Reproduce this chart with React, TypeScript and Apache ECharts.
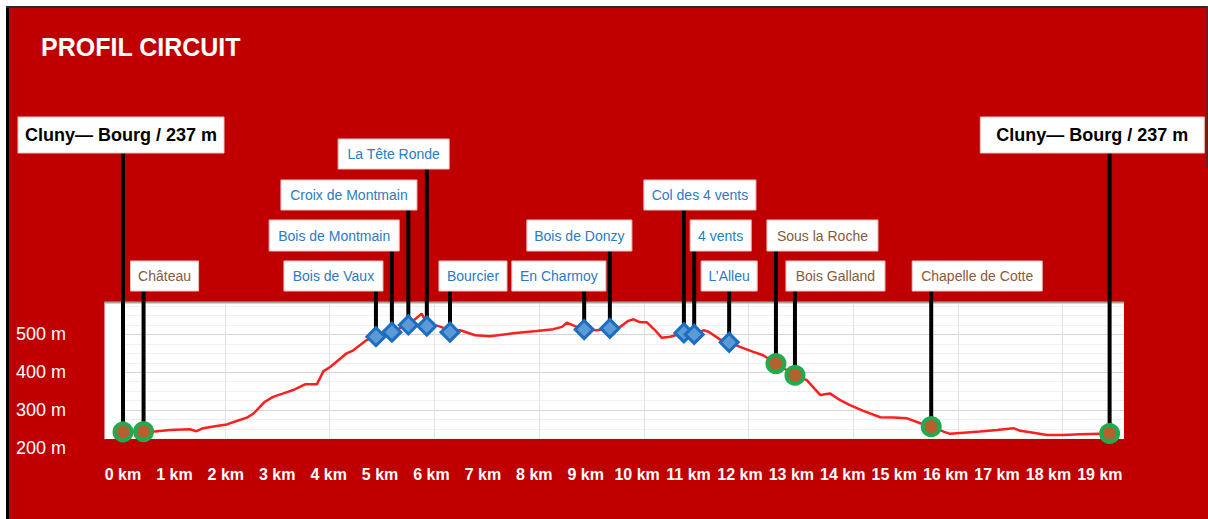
import React, { useEffect, useRef } from "react";
import * as echarts from "echarts";

const FONT = '"Liberation Sans", Arial, Helvetica, sans-serif';

// Elevation profile (distance in km, elevation in m)
const PROFILE_KM = [
  0.0, 0.4, 0.62, 0.91, 1.3, 1.43, 1.56, 1.82, 2.02, 2.21, 2.41, 2.54, 2.76, 2.92, 3.12, 3.31,
  3.54, 3.77, 3.9, 4.03, 4.35, 4.48, 4.74, 4.92, 5.23, 5.39, 5.55, 5.68, 5.81, 5.91, 6.14,
  6.36, 6.56, 6.85, 7.14, 7.59, 8.05, 8.37, 8.54, 8.63, 8.79, 8.97, 9.22, 9.47, 9.67, 9.83,
  9.93, 10.06, 10.19, 10.35, 10.48, 10.64, 10.91, 11.11, 11.29, 11.39, 11.61, 11.79, 12.0,
  12.26, 12.45, 12.7, 13.07, 13.3, 13.56, 13.75, 13.95, 14.14, 14.4, 14.73, 14.99, 15.25,
  15.51, 15.72, 15.96, 16.09, 16.35, 16.67, 17.0, 17.32, 17.45, 17.71, 17.97, 18.29, 18.62, 19.19,
];
const PROFILE_ELEV = [
  241, 243, 243, 247, 249, 244, 252, 258, 262, 271, 280, 291, 322, 335, 344, 353,
  368, 368, 403, 414, 450, 458, 485, 494, 506, 517, 525, 540, 555, 530, 522,
  511, 511, 498, 495, 503, 509, 514, 520, 531, 522, 513, 511, 516, 520, 536,
  540, 532, 532, 511, 491, 494, 504, 500, 511, 507, 487, 479, 467,
  454, 445, 423, 392, 379, 340, 344, 326, 313, 298, 281, 280, 278,
  265, 256, 243, 237, 240, 243, 247, 252, 245, 240, 234, 234, 236, 238,
];

// Points of interest
const POI_NAMES = [
  "Cluny\u2014 Bourg / 237 m", "Château", "Bois de Vaux", "Bois de Montmain", "Croix de Montmain",
  "La Tête Ronde", "Bourcier", "En Charmoy", "Bois de Donzy", "Col des 4 vents", "4 vents",
  "L\u2019Alleu", "Sous la Roche", "Bois Galland", "Chapelle de Cotte", "Cluny\u2014 Bourg / 237 m",
];
const POI_KM = [0.0, 0.4, 4.92, 5.23, 5.55, 5.91, 6.36, 8.97, 9.47, 10.91, 11.11, 11.79, 12.7, 13.07, 15.72, 19.19];
const POI_ELEV = [242, 243, 494, 506, 525, 522, 506, 513, 516, 504, 500, 479, 423, 392, 256, 238];
const POI_KIND = [
  "town", "site", "wood", "wood", "wood", "wood", "wood", "wood", "wood", "wood", "wood", "wood",
  "site", "site", "site", "town",
];

// Label box layout: [offset of box centre from marker x, box top, box width, box height]
const LABEL_BOX: number[][] = [
  [-2, 117, 206, 36], [21, 261, 68, 30], [-42.5, 261, 99, 30], [-57.7, 220, 130, 31],
  [-59.4, 180, 136, 30], [-33.2, 139, 111, 30], [23, 261, 68, 30], [-25.3, 261, 94, 30],
  [-30.5, 220, 105, 31], [16, 180, 112, 30], [26.5, 220, 61, 31], [0, 261, 56, 30],
  [46.5, 220, 111, 31], [40.5, 261, 99, 30], [46, 261, 130, 30], [-17.3, 117, 224, 36],
];

const KIND_COLOR: Record<string, string> = { town: "#000000", site: "#8a5a3b", wood: "#2b7bc4" };

const KM_MAX = 19.47;
const Y_MIN = 200;
const Y_MAX = 585;

export default function App() {
  const ref = useRef<HTMLDivElement>(null);

  useEffect(() => {
    const chart = echarts.init(ref.current!, null, { renderer: "svg" });

    const profile = PROFILE_KM.map((k, i) => [k, PROFILE_ELEV[i]]);
    const poi = POI_KM.map((k, i) => [k, POI_ELEV[i]]);
    const diamonds = POI_KM.map((k, i) => (POI_KIND[i] === "wood" ? [k, POI_ELEV[i]] : null)).filter(Boolean);
    const circles = POI_KM.map((k, i) => (POI_KIND[i] !== "wood" ? [k, POI_ELEV[i]] : null)).filter(Boolean);

    const option: any = {
      animation: false,
      backgroundColor: "#ffffff",
      grid: { left: 123, right: 84, top: 302.3, bottom: 71.15, containLabel: false },
      xAxis: [
        {
          type: "value",
          min: 0,
          max: KM_MAX,
          interval: 1,
          axisLine: { show: false },
          axisTick: { show: false },
          splitLine: { show: false },
          axisLabel: {
            color: "#ffffff",
            fontWeight: "bold",
            fontSize: 16,
            fontFamily: FONT,
            margin: 19,
            showMaxLabel: false,
            formatter: (v: number) => `${v} km`,
          },
        },
        {
          type: "value",
          min: 0.0259,
          max: 9.586,
          minInterval: 1,
          maxInterval: 1,
          position: "bottom",
          axisLine: { show: false },
          axisTick: { show: false },
          axisLabel: { show: false },
          splitLine: { show: true, showMinLine: false, showMaxLine: false, lineStyle: { color: "#e3e3e3", width: 1 } },
        },
      ],
      yAxis: {
        type: "value",
        min: Y_MIN,
        max: Y_MAX,
        interval: 100,
        axisLine: { show: false },
        axisTick: { show: false },
        axisLabel: {
          color: "#ffffff",
          fontSize: 18,
          fontFamily: FONT,
          margin: 57,
          showMaxLabel: false,
          formatter: (v: number) => `${v} m`,
        },
        splitLine: { show: true, lineStyle: { color: "#d6d6d6", width: 1 } },
        minorTick: { show: false, splitNumber: 4 },
        minorSplitLine: { show: true, lineStyle: { color: "#f0f0f0", width: 1 } },
      },
      graphic: [
        { type: "rect", z: -20, shape: { x: 6, y: 6, width: 1202, height: 513 }, style: { fill: "#c00000" } },
        { type: "rect", z: -19, shape: { x: 6, y: 6, width: 3, height: 513 }, style: { fill: "#000000" } },
        { type: "rect", z: -19, shape: { x: 6, y: 6, width: 1202, height: 2 }, style: { fill: "#2a2a2a" } },
        { type: "rect", z: -19, shape: { x: 1206.5, y: 6, width: 1.5, height: 162 }, style: { fill: "#333333" } },
        { type: "rect", z: -10, shape: { x: 104.5, y: 302.3, width: 1019.5, height: 136.7 }, style: { fill: "#ffffff" } },
        { type: "rect", z: 1, shape: { x: 100, y: 439, width: 1030, height: 12 }, style: { fill: "#c00000" } },
        { type: "rect", z: 1, shape: { x: 104.5, y: 301.5, width: 1019.5, height: 2 }, style: { fill: "#a3a3a3" } },
        {
          type: "text",
          z: 5,
          x: 41,
          y: 47,
          style: {
            text: "PROFIL CIRCUIT",
            fill: "#ffffff",
            font: `bold 25px ${FONT}`,
            verticalAlign: "middle",
            align: "left",
          },
        },
      ],
      series: [
        {
          type: "line",
          xAxisIndex: 0,
          yAxisIndex: 0,
          data: profile,
          symbol: "none",
          smooth: false,
          z: 2,
          lineStyle: { color: "#ff1f1f", width: 2.5 },
        },
        {
          type: "custom",
          xAxisIndex: 0,
          yAxisIndex: 0,
          data: poi,
          clip: false,
          z: 3,
          renderItem: (params: any, api: any) => {
            const i = params.dataIndex;
            const p = api.coord([api.value(0), api.value(1)]);
            const [dx, top, w, h] = LABEL_BOX[i];
            const cx = p[0] + dx;
            const kind = POI_KIND[i];
            const font = kind === "town" ? `bold 18px ${FONT}` : `14px ${FONT}`;
            return {
              type: "group",
              children: [
                {
                  type: "line",
                  shape: { x1: p[0], y1: top + h, x2: p[0], y2: p[1] },
                  style: { stroke: "#000000", lineWidth: 4 },
                },
                {
                  type: "rect",
                  shape: { x: cx - w / 2, y: top, width: w, height: h },
                  style: { fill: "#ffffff", stroke: "#e6c4c4", lineWidth: 1 },
                },
                {
                  type: "text",
                  style: {
                    text: POI_NAMES[i],
                    x: cx,
                    y: top + h / 2,
                    align: "center",
                    verticalAlign: "middle",
                    fill: KIND_COLOR[kind],
                    font,
                  },
                },
              ],
            };
          },
        },
        {
          type: "scatter",
          xAxisIndex: 0,
          yAxisIndex: 0,
          data: diamonds,
          symbol: "diamond",
          symbolSize: 18,
          z: 4,
          itemStyle: { color: "#5b9ad6", borderColor: "#1c6ec3", borderWidth: 3, opacity: 1 },
        },
        {
          type: "scatter",
          xAxisIndex: 0,
          yAxisIndex: 0,
          data: circles,
          symbol: "circle",
          symbolSize: 17,
          z: 4,
          itemStyle: { color: "#b5612f", borderColor: "#1fab4f", borderWidth: 4, opacity: 1 },
        },
      ],
    };

    chart.setOption(option);
    return () => chart.dispose();
  }, []);

  return <div ref={ref} style={{ position: "fixed", left: 0, top: 0, width: 1208, height: 519 }} />;
}
